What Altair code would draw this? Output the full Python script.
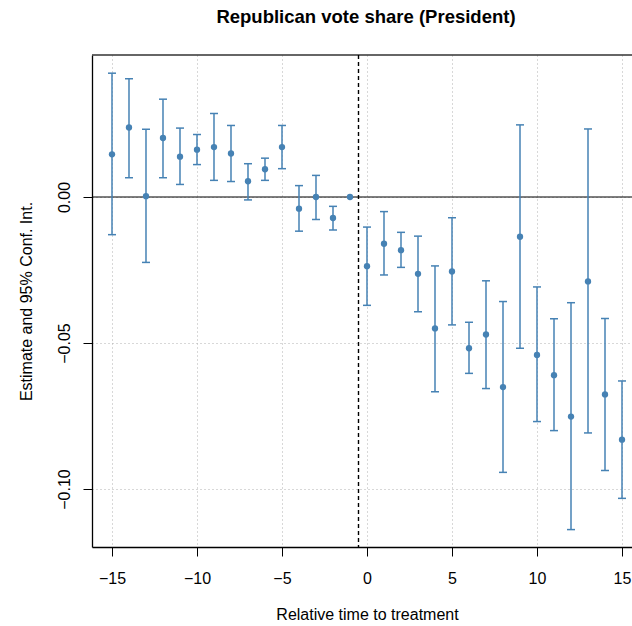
import altair as alt
import pandas as pd

rel_time = list(range(-15, 16))
estimate = [0.0146, 0.0238, 0.0003, 0.0202, 0.0138, 0.0162, 0.0171, 0.0149, 0.0054, 0.0095,
            0.0171, -0.0040, 0.0000, -0.0072, 0.0000,
            -0.0237, -0.0160, -0.0182, -0.0263, -0.0450, -0.0255, -0.0518, -0.0471, -0.0651,
            -0.0136, -0.0541, -0.0610, -0.0752, -0.0289, -0.0676, -0.0831]
ci_low = [-0.0129, 0.0066, -0.0224, 0.0066, 0.0043, 0.0111, 0.0057, 0.0053, -0.0010, 0.0057,
          0.0097, -0.0117, -0.0077, -0.0113, None,
          -0.0371, -0.0267, -0.0241, -0.0393, -0.0667, -0.0438, -0.0604, -0.0656, -0.0943,
          -0.0518, -0.0769, -0.0800, -0.1139, -0.0808, -0.0937, -0.1032]
ci_high = [0.0424, 0.0405, 0.0232, 0.0335, 0.0236, 0.0214, 0.0286, 0.0245, 0.0114, 0.0133,
           0.0245, 0.0039, 0.0074, -0.0032, None,
           -0.0103, -0.0050, -0.0121, -0.0134, -0.0236, -0.0071, -0.0429, -0.0287, -0.0358,
           0.0247, -0.0308, -0.0417, -0.0362, 0.0233, -0.0416, -0.0630]

x_ticks = [-15, -10, -5, 0, 5, 10, 15]
y_ticks = [-0.10, -0.05, 0.00]
x_domain = [-16.176, 15.588]
y_domain = [-0.11986, 0.04863]
treat_line = -0.5

df = pd.DataFrame({"t": rel_time, "est": estimate, "lo": ci_low, "hi": ci_high})

FONT = "Liberation Sans"
BLUE = "#4682b4"

xs = alt.Scale(domain=x_domain, nice=False, zero=False)
ys = alt.Scale(domain=y_domain, nice=False, zero=False)

x_axis = alt.Axis(values=x_ticks, title="Relative time to treatment", format="d",
                  grid=True, gridDash=[1, 3], gridColor="#b0b0b0",
                  tickSize=9, tickColor="black", domainColor="black", domainWidth=1.3,
                  labelBaseline="alphabetic", labelPadding=27,
                  titleX=275, titleY=72, titleBaseline="alphabetic", titleAlign="center",
                  labelFlush=False)
y_axis = alt.Axis(values=y_ticks, title="Estimate and 95% Conf. Int.", format=".2f",
                  grid=True, gridDash=[1, 3], gridColor="#b0b0b0",
                  tickSize=9, tickColor="black", domainColor="black", domainWidth=1.3,
                  labelAngle=270, labelAlign="center", labelBaseline="alphabetic",
                  labelPadding=14,
                  titleAngle=270, titleX=-61, titleY=246, titleAlign="center",
                  titleBaseline="alphabetic")

base = alt.Chart(df)

grid = base.mark_point(opacity=0).encode(
    x=alt.X("t:Q", scale=xs, axis=x_axis),
    y=alt.Y("est:Q", scale=ys, axis=y_axis),
)

zero = alt.Chart(pd.DataFrame({"v": [0.0]})).mark_rule(color="black", strokeWidth=1.2).encode(
    y=alt.Y("v:Q", scale=ys))

top_border = alt.Chart(pd.DataFrame({"v": [y_domain[1]]})).mark_rule(color="#333333", strokeWidth=1.5).encode(
    y=alt.Y("v:Q", scale=ys))

vline = alt.Chart(pd.DataFrame({"v": [treat_line]})).mark_rule(
    color="black", strokeWidth=1.4, strokeDash=[4, 3]).encode(x=alt.X("v:Q", scale=xs))

bars = base.transform_filter("isValid(datum.lo)").mark_rule(color=BLUE, strokeWidth=1.5).encode(
    x=alt.X("t:Q", scale=xs), y=alt.Y("lo:Q", scale=ys), y2="hi:Q")

cap_lo = base.transform_filter("isValid(datum.lo)").mark_tick(
    color=BLUE, orient="horizontal", size=8, thickness=1.5, opacity=1).encode(
    x=alt.X("t:Q", scale=xs), y=alt.Y("lo:Q", scale=ys))
cap_hi = base.transform_filter("isValid(datum.hi)").mark_tick(
    color=BLUE, orient="horizontal", size=8, thickness=1.5, opacity=1).encode(
    x=alt.X("t:Q", scale=xs), y=alt.Y("hi:Q", scale=ys))

pts = base.mark_circle(color=BLUE, size=40, opacity=1).encode(
    x=alt.X("t:Q", scale=xs), y=alt.Y("est:Q", scale=ys))

chart = alt.layer(grid, zero, top_border, vline, bars, cap_lo, cap_hi, pts).properties(
    width=540, height=492,
    title=alt.TitleParams("Republican vote share (President)", font=FONT, fontSize=18.5,
                          fontWeight="bold", color="black", anchor="middle", dx=4,
                          baseline="alphabetic", frame="group", offset=13),
    autosize=alt.AutoSizeParams(type="none"),
    padding={"left": 92, "top": 55, "right": 0, "bottom": 79},
    background="white",
).configure_view(stroke=None).configure_axis(
    labelFont=FONT, titleFont=FONT, labelFontSize=16, titleFontSize=16,
    labelColor="black", titleColor="black", titleFontWeight="normal",
)

chart.save("out.html", embed_options={"renderer": "svg", "actions": False})
